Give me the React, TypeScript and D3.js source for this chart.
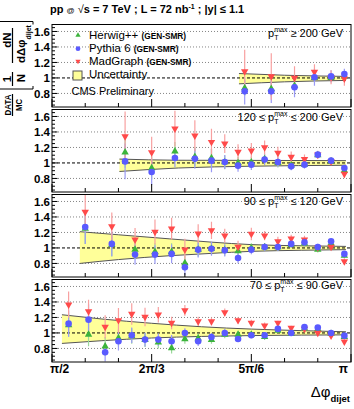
import React from "react";
import * as d3 from "d3";

const WIDTH = 354;
const HEIGHT = 409;

// axis ticks
const phiTicks = [Math.PI / 2, (2 * Math.PI) / 3, (5 * Math.PI) / 6, Math.PI];
const phiTickLabels = ["π/2", "2π/3", "5π/6", "π"];
const ratioTicks = [0.8, 1, 1.2, 1.4, 1.6];
const ratioTickLabels = ["0.8", "1", "1.2", "1.4", "1.6"];

// panel labels (pT max ranges)
const panelPrefix = ["", "120 ≤ ", "90 ≤ ", "70 ≤ "];
const panelSuffix = [" ≥ 200 GeV", " ≤ 200 GeV", " ≤ 120 GeV", " ≤ 90 GeV"];

const legendNames = ["Herwig++", "Pythia 6", "MadGraph"];

// ---- pT > 200 GeV
const p1Phi = [2.5831, 2.7227, 2.8449, 2.9496, 3.0369, 3.1067];
const p1Herwig = [0.87, 0.86, 0.9, 1.0, 1.0, 1.02];
const p1HerwigErr = [0.1, 0.1, 0.08, 0.06, 0.05, 0.05];
const p1Pythia = [0.827, 0.827, 0.88, 1.01, 1.02, 1.05];
const p1PythiaErr = [0.17, 0.15, 0.13, 0.11, 0.08, 0.07];
const p1Madgraph = [1.085, 1.02, 1.0, 1.077, 1.01, 0.99];
const p1MadgraphErr = [0.28, 0.3, 0.15, 0.1, 0.09, 0.09];
const p1BandPhi = [2.553, 2.793, 3.115];
const p1BandHi = [1.057, 1.035, 1.02];
const p1BandLo = [0.924, 0.95, 0.968];

// ---- 120 < pT < 200 GeV
const p2Phi = [1.9548, 2.0944, 2.2166, 2.3213, 2.4086, 2.4784, 2.5482, 2.618, 2.6878, 2.7576, 2.8274, 2.8972, 2.9671, 3.0369, 3.1067];
const p2Herwig = [1.137, 0.935, 1.15, 1.08, 1.064, 1.01, 1.0, 1.01, 1.05, 1.0, 0.97, 0.98, 1.1, 1.02, 0.9];
const p2HerwigErr = [0.2, 0.15, 0.12, 0.12, 0.12, 0.09, 0.08, 0.07, 0.06, 0.06, 0.05, 0.05, 0.04, 0.04, 0.04];
const p2Pythia = [1.02, 0.884, 1.064, 1.055, 1.03, 1.013, 0.965, 0.978, 1.043, 1.013, 0.956, 0.978, 1.107, 1.03, 0.935];
const p2PythiaErr = [0.23, 0.17, 0.12, 0.13, 0.15, 0.09, 0.08, 0.07, 0.07, 0.06, 0.05, 0.05, 0.04, 0.04, 0.04];
const p2Madgraph = [1.343, 1.137, 1.443, 1.352, 1.27, 1.249, 1.142, 1.159, 1.2, 1.129, 1.077, 1.05, 1.107, 1.02, 0.858];
const p2MadgraphErr = [0.32, 0.2, 0.23, 0.2, 0.17, 0.12, 0.1, 0.1, 0.09, 0.08, 0.07, 0.06, 0.05, 0.05, 0.05];
const p2BandPhi = [1.925, 2.234, 2.618, 3.115];
const p2BandHi = [1.05, 1.035, 1.033, 1.03];
const p2BandLo = [0.89, 0.935, 0.958, 0.97];

// ---- 90 < pT < 120 GeV
const p3Phi = [1.7453, 1.885, 2.0071, 2.1118, 2.1991, 2.2689, 2.3387, 2.4086, 2.4784, 2.5482, 2.618, 2.6878, 2.7576, 2.8274, 2.8972, 2.9671, 3.0369, 3.1067];
const p3Herwig = [1.25, 1.04, 0.978, 0.95, 0.95, 0.806, 0.98, 0.99, 0.97, 0.96, 1.0, 1.01, 1.01, 1.04, 1.06, 0.98, 1.06, 0.9];
const p3HerwigErr = [0.2, 0.15, 0.12, 0.11, 0.11, 0.1, 0.09, 0.08, 0.07, 0.07, 0.06, 0.05, 0.05, 0.04, 0.04, 0.04, 0.03, 0.03];
const p3Pythia = [1.271, 1.052, 0.914, 0.914, 0.923, 0.75, 0.978, 0.99, 0.969, 0.871, 0.978, 1.013, 1.013, 1.052, 1.072, 1.013, 1.085, 0.923];
const p3PythiaErr = [0.22, 0.16, 0.13, 0.12, 0.12, 0.1, 0.1, 0.09, 0.08, 0.07, 0.06, 0.05, 0.05, 0.04, 0.04, 0.04, 0.03, 0.03];
const p3Madgraph = [1.465, 1.279, 1.107, 1.206, 1.249, 0.978, 1.185, 1.227, 1.159, 1.013, 1.18, 1.159, 1.085, 1.12, 1.107, 1.008, 1.013, 0.827];
const p3MadgraphErr = [0.25, 0.18, 0.15, 0.16, 0.14, 0.14, 0.12, 0.11, 0.09, 0.08, 0.08, 0.06, 0.06, 0.05, 0.05, 0.04, 0.04, 0.04];
const p3BandPhi = [1.717, 1.92, 2.19, 2.409, 2.618, 2.88, 3.115];
const p3BandHi = [1.21, 1.17, 1.117, 1.075, 1.043, 1.028, 1.02];
const p3BandLo = [0.8, 0.85, 0.9, 0.93, 0.956, 0.97, 0.978];

// ---- 70 < pT < 90 GeV
const p4Phi = [1.6581, 1.7628, 1.85, 1.9199, 1.9897, 2.0595, 2.1293, 2.1991, 2.2689, 2.3387, 2.4086, 2.4784, 2.5482, 2.618, 2.6878, 2.7576, 2.8274, 2.8972, 2.9671, 3.0369, 3.1067];
const p4Herwig = [1.1, 0.978, 0.827, 0.935, 0.96, 0.91, 0.88, 0.806, 0.922, 0.93, 0.91, 0.98, 0.98, 0.98, 0.95, 1.03, 0.99, 1.06, 1.05, 0.99, 0.95];
const p4HerwigErr = [0.15, 0.15, 0.12, 0.11, 0.1, 0.09, 0.08, 0.07, 0.06, 0.06, 0.05, 0.05, 0.04, 0.04, 0.04, 0.03, 0.03, 0.03, 0.03, 0.03, 0.03];
const p4Pythia = [1.12, 1.172, 0.75, 0.892, 0.97, 0.914, 0.914, 0.892, 1.0, 0.892, 0.948, 1.0, 0.922, 0.97, 0.97, 1.052, 1.0, 1.077, 1.07, 1.0, 0.965];
const p4PythiaErr = [0.17, 0.2, 0.12, 0.12, 0.1, 0.09, 0.08, 0.08, 0.06, 0.06, 0.05, 0.05, 0.04, 0.04, 0.04, 0.03, 0.03, 0.03, 0.03, 0.03, 0.03];
const p4Madgraph = [1.365, 1.279, 1.077, 1.163, 1.245, 1.206, 1.236, 1.129, 1.292, 1.15, 1.15, 1.266, 1.163, 1.129, 1.094, 1.129, 1.064, 1.052, 1.0, 0.965, 0.888];
const p4MadgraphErr = [0.17, 0.15, 0.15, 0.16, 0.14, 0.12, 0.1, 0.08, 0.07, 0.06, 0.05, 0.05, 0.04, 0.04, 0.04, 0.03, 0.03, 0.03, 0.03, 0.03, 0.03];
const p4BandPhi = [1.623, 1.833, 2.094, 2.356, 2.618, 2.88, 3.115];
const p4BandHi = [1.235, 1.18, 1.125, 1.08, 1.05, 1.03, 1.015];
const p4BandLo = [0.865, 0.9, 0.935, 0.955, 0.966, 0.972, 0.975];

const panels = [
  { phi: p1Phi, her: p1Herwig, herE: p1HerwigErr, pyt: p1Pythia, pytE: p1PythiaErr, mad: p1Madgraph, madE: p1MadgraphErr, bPhi: p1BandPhi, bHi: p1BandHi, bLo: p1BandLo },
  { phi: p2Phi, her: p2Herwig, herE: p2HerwigErr, pyt: p2Pythia, pytE: p2PythiaErr, mad: p2Madgraph, madE: p2MadgraphErr, bPhi: p2BandPhi, bHi: p2BandHi, bLo: p2BandLo },
  { phi: p3Phi, her: p3Herwig, herE: p3HerwigErr, pyt: p3Pythia, pytE: p3PythiaErr, mad: p3Madgraph, madE: p3MadgraphErr, bPhi: p3BandPhi, bHi: p3BandHi, bLo: p3BandLo },
  { phi: p4Phi, her: p4Herwig, herE: p4HerwigErr, pyt: p4Pythia, pytE: p4PythiaErr, mad: p4Madgraph, madE: p4MadgraphErr, bPhi: p4BandPhi, bHi: p4BandHi, bLo: p4BandLo },
];

const FONT = "Liberation Sans, Arial, Helvetica, sans-serif";
const GREEN = "#3cb43c";
const BLUE = "#5a5aff";
const RED = "#ff4a4a";

const left = 52;
const right = 351;
const panelTop = [24.5, 109.5, 194.5, 279.5];
const panelH = 82.5;
const labelBase = [36.7, 120.7, 205, 288.5];

const x = d3.scaleLinear().domain([Math.PI / 2, Math.PI]).range([left, right]);
const minorPhi = d3.range(0, 10).map((k) => Math.PI / 2 + (k * Math.PI) / 18);
const minorRatio = d3.range(0.65, 1.69, 0.05);

const triUp = d3.symbol().type(d3.symbolTriangle).size(24)();
const triUpSmall = d3.symbol().type(d3.symbolTriangle).size(12)();

const Panel = ({ p, i }: any) => {
  const top = panelTop[i];
  const bottom = top + panelH;
  const y = d3.scaleLinear().domain([0.625, 1.69]).range([bottom, top]);
  const band = p.bPhi.map((ph: number, k: number) => ({ ph, hi: p.bHi[k], lo: p.bLo[k] }));
  const area = d3
    .area<any>()
    .x((d) => x(d.ph))
    .y0((d) => y(d.lo))
    .y1((d) => y(d.hi))
    .curve(d3.curveMonotoneX);
  const hiLine = d3.line<any>().x((d) => x(d.ph)).y((d) => y(d.hi)).curve(d3.curveMonotoneX);
  const loLine = d3.line<any>().x((d) => x(d.ph)).y((d) => y(d.lo)).curve(d3.curveMonotoneX);
  const clipId = `clip${i}`;

  const bars = (vals: number[], errs: number[], color: string) =>
    vals.map((v, k) => (
      <line
        key={k}
        x1={x(p.phi[k])}
        x2={x(p.phi[k])}
        y1={y(v - errs[k])}
        y2={y(v + errs[k])}
        stroke={color}
        strokeWidth={1.2}
      />
    ));

  return (
    <g>
      <defs>
        <clipPath id={clipId}>
          <rect x={left} y={top} width={right - left} height={panelH} />
        </clipPath>
      </defs>
      {ratioTicks
        .filter((t) => t !== 1)
        .map((t) => (
          <line key={t} x1={left} x2={right} y1={y(t)} y2={y(t)} stroke="#777" strokeWidth={0.9} strokeDasharray="1,2" />
        ))}
      <path d={area(band) || ""} fill="#ffff99" />
      <path d={hiLine(band) || ""} fill="none" stroke="#555" strokeWidth={1} />
      <path d={loLine(band) || ""} fill="none" stroke="#555" strokeWidth={1} />
      <line x1={left} x2={right} y1={y(1)} y2={y(1)} stroke="#000" strokeWidth={1} strokeDasharray="3,2" />
      <g clipPath={`url(#${clipId})`}>
        {bars(p.her, p.herE, "#9ad89a")}
        {bars(p.pyt, p.pytE, "#9a9af5")}
        {bars(p.mad, p.madE, "#f8a0a0")}
        {p.her.map((v: number, k: number) => (
          <path key={"h" + k} d={triUp || ""} transform={`translate(${x(p.phi[k])},${y(v)})`} fill={GREEN} />
        ))}
        {p.mad.map((v: number, k: number) => (
          <path key={"m" + k} d={triUp || ""} transform={`translate(${x(p.phi[k])},${y(v)}) rotate(180)`} fill={RED} />
        ))}
        {p.pyt.map((v: number, k: number) => (
          <circle key={"p" + k} cx={x(p.phi[k])} cy={y(v)} r={3.3} fill={BLUE} />
        ))}
      </g>
      <rect x={left} y={top} width={right - left} height={panelH} fill="none" stroke="#000" strokeWidth={1} />
      {minorRatio.map((t) => {
        const major = ratioTicks.some((r) => Math.abs(r - t) < 1e-6);
        return <line key={t} x1={left} x2={left + (major ? 5.5 : 3)} y1={y(t)} y2={y(t)} stroke="#000" strokeWidth={1} />;
      })}
      {minorPhi.map((t, k) => {
        const major = k % 3 === 0;
        return <line key={k} x1={x(t)} x2={x(t)} y1={bottom} y2={bottom - (major ? 8 : 4)} stroke="#000" strokeWidth={1} />;
      })}
      {ratioTicks.map((t, k) => (
        <text key={t} x={50} y={y(t) + 4.2} textAnchor="end" fontFamily={FONT} fontWeight="bold" fontSize={11.5}>
          {ratioTickLabels[k]}
        </text>
      ))}
      <text x={343} y={labelBase[i]} textAnchor="end" fontFamily={FONT} fontSize={11}>
        <tspan>{panelPrefix[i]}p</tspan>
        <tspan fontSize={7} dy={3}>T</tspan>
        <tspan fontSize={7} dx={-4.3} dy={-8}>max</tspan>
        <tspan dy={5}>{panelSuffix[i]}</tspan>
      </text>
    </g>
  );
};

const rot = (px: number, py: number) => `translate(${px},${py}) rotate(-90)`;

export default function App() {
  const lastBottom = panelTop[3] + panelH;
  const legendY = [35.3, 48.7, 61.3];
  return (
    <svg width={WIDTH} height={HEIGHT} style={{ position: "absolute", left: 0, top: 0, background: "#fff" }}>
      <rect width={WIDTH} height={HEIGHT} fill="#fff" />
      {/* title */}
      <text x={50} y={12.7} fontFamily={FONT} fontWeight="bold" fontSize={11}>
        <tspan>pp </tspan>
        <tspan fontSize={8} fontWeight="normal">@</tspan>
        <tspan fontWeight="normal"> √</tspan>
        <tspan>s = 7 TeV ; L = 72 nb</tspan>
        <tspan fontSize={7} dy={-4}>-1</tspan>
        <tspan dy={4}> ; |y| ≤ 1.1</tspan>
      </text>

      {panels.map((p, i) => (
        <Panel key={i} p={p} i={i} />
      ))}

      {/* legend */}
      <path d={triUpSmall || ""} transform={`translate(78,${legendY[0]})`} fill={GREEN} />
      <circle cx={78} cy={legendY[1]} r={2.4} fill={BLUE} />
      <path d={triUpSmall || ""} transform={`translate(78,${legendY[2]}) rotate(180)`} fill={RED} />
      <rect x={73} y={71} width={9} height={9} fill="#ffff99" stroke="#555" strokeWidth={1} />
      {legendNames.map((n, k) => (
        <text key={n} x={89} y={legendY[k] + 3.6} fontFamily={FONT} fontSize={11.5}>
          {n} <tspan fontSize={8.3} fontWeight="bold">(GEN-SMR)</tspan>
        </text>
      ))}
      <text x={89} y={77.5} fontFamily={FONT} fontSize={11.5}>
        Uncertainty
      </text>
      <text x={71.5} y={94.7} fontFamily={FONT} fontSize={11}>
        CMS Preliminary
      </text>

      {/* x tick labels */}
      {phiTicks.map((t, k) => (
        <text
          key={k}
          x={k === 0 ? x(t) - 2 : k === 3 ? x(t) - 3 : x(t)}
          y={lastBottom + 11}
          textAnchor={k === 0 ? "start" : k === 3 ? "end" : "middle"}
          fontFamily={FONT}
          fontWeight="bold"
          fontSize={12}
        >
          {phiTickLabels[k]}
        </text>
      ))}

      {/* x title */}
      <text x={350} y={397} textAnchor="end" fontFamily={FONT} fontSize={15}>
        <tspan>Δφ</tspan>
        <tspan fontSize={9.5} fontWeight="bold" dy={5}>dijet</tspan>
      </text>

      {/* y title */}
      <g fontFamily={FONT} fontWeight="bold" fontSize={11.5}>
        <path d="M0,21.5H33V24.5" fill="none" stroke="#000" strokeWidth={1} />
        <path d="M0,89H33V86" fill="none" stroke="#000" strokeWidth={1} />
        <text transform={rot(11, 79)} textAnchor="middle">1</text>
        <line x1={12.5} x2={12.5} y1={72} y2={86} stroke="#000" strokeWidth={1.2} />
        <text transform={rot(24.5, 78)} textAnchor="middle">N</text>
        <text transform={rot(11, 40)} textAnchor="middle">dN</text>
        <line x1={12.5} x2={12.5} y1={28} y2={63} stroke="#000" strokeWidth={1.2} />
        <text transform={rot(24.5, 63)} textAnchor="start">
          <tspan>dΔφ</tspan>
          <tspan fontSize={7} dy={6.5}>dijet</tspan>
        </text>
        <text transform={rot(11, 105)} textAnchor="middle" fontSize={9.5} textLength={21} lengthAdjust="spacingAndGlyphs">
          DATA
        </text>
        <line x1={12.5} x2={12.5} y1={94} y2={116} stroke="#000" strokeWidth={1.2} />
        <text transform={rot(22, 105)} textAnchor="middle" fontSize={9.5} textLength={12} lengthAdjust="spacingAndGlyphs">
          MC
        </text>
      </g>
    </svg>
  );
}
